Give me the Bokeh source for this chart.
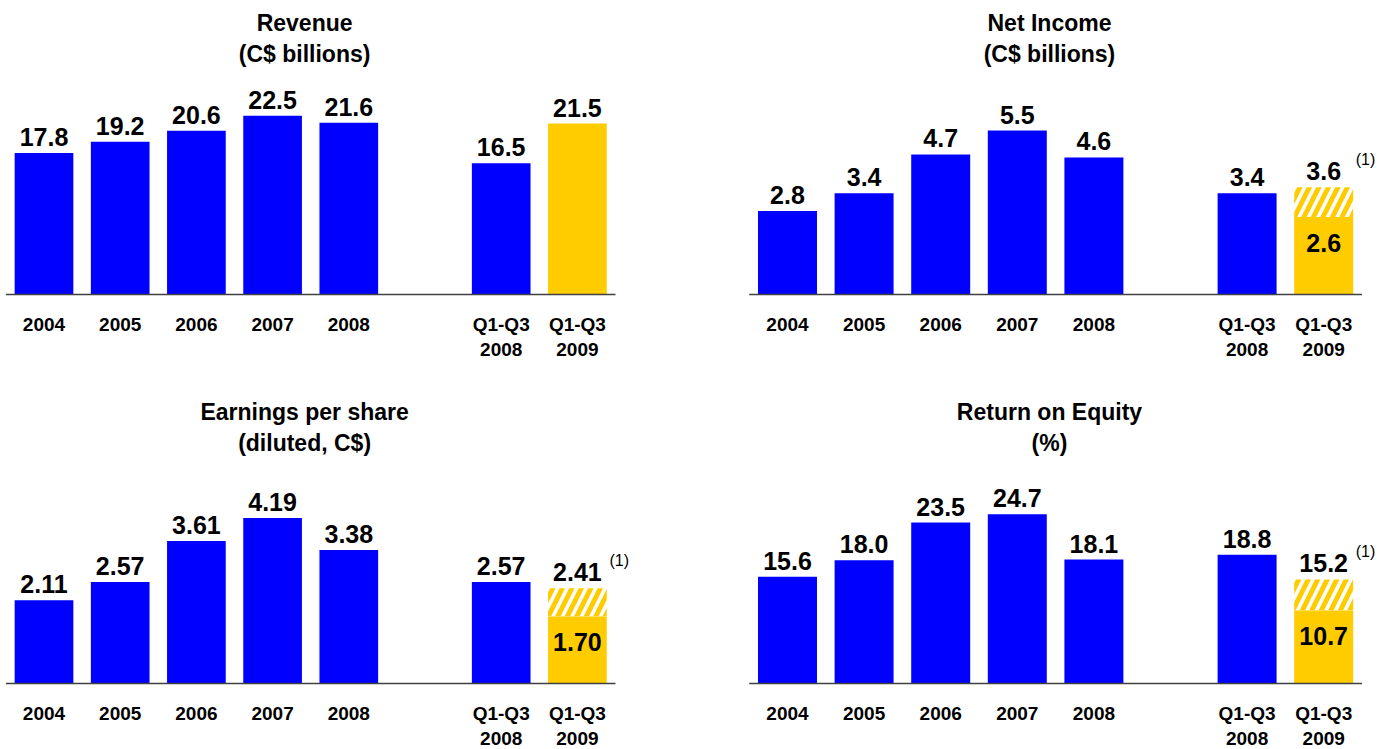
from bokeh.plotting import figure
from bokeh.layouts import gridplot
from bokeh.core.properties import value
from bokeh.embed import file_html
from bokeh.resources import INLINE

# ---------------- data ----------------
categories = ["2004", "2005", "2006", "2007", "2008", "Q1-Q3\n2008", "Q1-Q3\n2009"]
revenue = [17.8, 19.2, 20.6, 22.5, 21.6, 16.5, 21.5]
net_income = [2.8, 3.4, 4.7, 5.5, 4.6, 3.4, 3.6]
eps = [2.11, 2.57, 3.61, 4.19, 3.38, 2.57, 2.41]
roe = [15.6, 18.0, 23.5, 24.7, 18.1, 18.8, 15.2]
# reported values for Q1-Q3 2009 (the taller, hatched value is adjusted, note (1))
net_income_reported = 2.6
eps_reported = 1.70
roe_reported = 10.7

# ---------------- style ----------------
BLUE = "#0000FF"
YELLOW = "#FFCC00"
FONT = value("Liberation Sans")
TITLE_SIZE = "23px"
VALUE_SIZE = "25px"
TICK_SIZE = "19px"
NOTE_SIZE = "16px"
BAR_W = 0.77

# category positions: a gap between the annual bars and the year-to-date bars
pos = [i if i < 5 else i + 1 for i in range(len(categories))]


def panel(t1, t2, vals, fmt, reported, width, height, x_start, px_per_cat,
          px_per_unit, base_px):
    p = figure(width=width, height=height,
               x_range=(x_start, x_start + width / px_per_cat),
               y_range=(-(height - base_px) / px_per_unit, base_px / px_per_unit),
               toolbar_location=None, output_backend="svg",
               x_axis_location=None, y_axis_location=None,
               min_border=0, outline_line_color=None,
               background_fill_color="white", border_fill_color="white")
    p.grid.visible = False
    n = len(vals)
    colors = [BLUE] * (n - 1) + [YELLOW]
    tops = list(vals[:-1]) + [reported if reported is not None else vals[-1]]
    p.vbar(x=pos, top=tops, width=BAR_W, fill_color=colors, line_color=None)
    if reported is not None:
        p.vbar(x=[pos[-1]], bottom=[reported], top=[vals[-1]], width=BAR_W,
               fill_color="white", line_color=None, hatch_pattern="/",
               hatch_color=YELLOW, hatch_weight=5, hatch_scale=19)
    # baseline
    p.segment(x0=[pos[0] - 0.5], x1=[pos[-1] + 0.5], y0=[0], y1=[0],
              line_color="#404040", line_width=1.5)
    common = dict(text_font=FONT, text_font_style="bold", text_color="black",
                  text_align="center")
    # value labels
    p.text(x=pos, y=vals, text=[fmt.format(v) for v in vals],
           text_baseline="middle", y_offset=-16, text_font_size=VALUE_SIZE,
           **common)
    if reported is not None:
        p.text(x=[pos[-1]], y=[reported], text=[fmt.format(reported)],
               text_baseline="middle", y_offset=26, text_font_size=VALUE_SIZE,
               **common)
        p.text(x=[pos[-1]], y=[vals[-1]], text=["(1)"], text_font=FONT,
               text_font_size=NOTE_SIZE, text_color="black", text_align="left",
               text_baseline="middle", x_offset=32, y_offset=-28)
    # category labels
    l1 = [c.split("\n")[0] for c in categories]
    p.text(x=pos, y=[0] * n, text=l1, text_baseline="middle", y_offset=30,
           text_font_size=TICK_SIZE, **common)
    x2 = [x for x, c in zip(pos, categories) if "\n" in c]
    l2 = [c.split("\n")[1] for c in categories if "\n" in c]
    p.text(x=x2, y=[0] * len(x2), text=l2, text_baseline="middle", y_offset=55,
           text_font_size=TICK_SIZE, **common)
    # title
    p.text(x=[3.42, 3.42], y=[0, 0], text=[t1, t2], text_baseline="middle",
           y_offset=[-272, -241], text_font_size=TITLE_SIZE, **common)
    return p


LW, RW = 694, 695
TH, BH = 390, 359
left_x0 = -43.5 / 76.2
right_x0 = -93.0 / 76.6

p1 = panel("Revenue", "(C$ billions)", revenue, "{:.1f}", None,
           LW, TH, left_x0, 76.2, 7.95, 294)
p2 = panel("Net Income", "(C$ billions)", net_income, "{:.1f}", net_income_reported,
           RW, TH, right_x0, 76.6, 29.8, 294)
p3 = panel("Earnings per share", "(diluted, C$)", eps, "{:.2f}", eps_reported,
           LW, BH, left_x0, 76.2, 39.5, 293)
p4 = panel("Return on Equity", "(%)", roe, "{:.1f}", roe_reported,
           RW, BH, right_x0, 76.6, 6.85, 293)

layout = gridplot([[p1, p2], [p3, p4]], toolbar_location=None)

open("out.html", "w").write(file_html(layout, INLINE))
